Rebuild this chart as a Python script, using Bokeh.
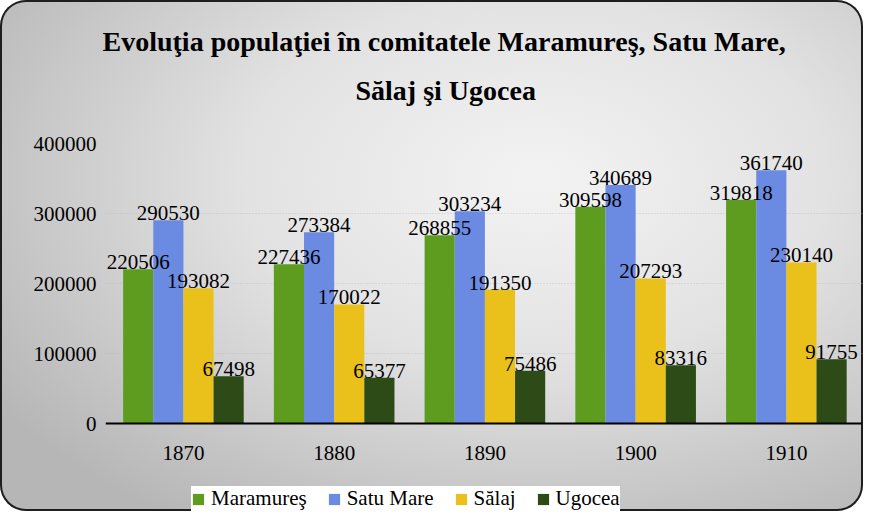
from bokeh.plotting import figure
from bokeh.models import (Range1d, Legend, LegendItem, Title, ColumnDataSource,
                          FixedTicker, BasicTickFormatter, InlineStyleSheet)
from bokeh.transform import dodge
from bokeh.core.properties import value
from bokeh.embed import file_html
from bokeh.resources import INLINE

# ---- data ----
years = ["1870", "1880", "1890", "1900", "1910"]
maramures = [220506, 227436, 268855, 309598, 319818]
satu_mare = [290530, 273384, 303234, 340689, 361740]
salaj = [193082, 170022, 191350, 207293, 230140]
ugocea = [67498, 65377, 75486, 83316, 91755]
series_names = ["Maramureş", "Satu Mare", "Sălaj", "Ugocea"]
y_ticks = [0, 100000, 200000, 300000, 400000]
title_line1 = "Evoluţia populaţiei în comitatele Maramureş, Satu Mare,"
title_line2 = "Sălaj şi Ugocea"

# ---- style ----
colors = ["#5e9c1f", "#6b8be2", "#e9c11a", "#2c4b17"]
offsets = [-0.3, -0.1, 0.1, 0.3]
bar_w = 0.2
FONT = "Liberation Serif"

xpos = list(range(len(years)))
series = [maramures, satu_mare, salaj, ugocea]
keys = ["m", "s", "sa", "u"]
data = dict(x=xpos)
for k, vals in zip(keys, series):
    data[k] = vals
    data[k + "_t"] = [str(v) for v in vals]
source = ColumnDataSource(data)

css = InlineStyleSheet(css=""":host {
  background: radial-gradient(ellipse 75% 80% at 62% 35%, #f3f3f3 0%, #e2e2e2 45%, #c6c6c6 80%, #b6b6b6 100%);
  border-radius: 26px;
  box-shadow: inset 0 0 0 2px #1e1e1e;
}""")

# frame spans down to the bottom edge so the legend (drawn in the frame) is not clipped;
# the x axis is pinned at y = 0
p = figure(x_range=Range1d(-0.517, 4.505), y_range=Range1d(-125714, 400000),
           width=863, height=511, output_backend="svg", toolbar_location=None,
           min_border_left=105, min_border_right=1, min_border_top=143, min_border_bottom=0,
           stylesheets=[css])
p.background_fill_alpha = 0
p.border_fill_alpha = 0
p.outline_line_color = None

renderers = []
for k, off, c in zip(keys, offsets, colors):
    r = p.vbar(x=dodge("x", off), top=k, bottom=0, width=bar_w, source=source,
               fill_color=c, line_color=None)
    renderers.append(r)

for k, off in zip(keys, offsets):
    p.text(x=dodge("x", off), y=k, text=k + "_t", source=source,
           text_align="center", text_baseline="middle", y_offset=-7,
           text_font=value(FONT), text_font_size="21px", text_color="black")

# axes
p.yaxis.ticker = FixedTicker(ticks=y_ticks)
p.yaxis.formatter = BasicTickFormatter(use_scientific=False)
p.yaxis.axis_line_color = None
p.yaxis.major_tick_line_color = None
p.yaxis.minor_tick_line_color = None
p.yaxis.major_label_standoff = 3
p.yaxis.major_label_text_font = FONT
p.yaxis.major_label_text_font_size = "21px"
p.yaxis.major_label_text_color = "black"

p.xaxis.fixed_location = 0
p.xaxis.ticker = FixedTicker(ticks=xpos)
p.xaxis.major_label_overrides = {i: y for i, y in zip(xpos, years)}
p.xaxis.axis_line_color = "black"
p.xaxis.axis_line_width = 2
p.xaxis.major_tick_line_color = None
p.xaxis.minor_tick_line_color = None
p.xaxis.major_label_standoff = 16
p.xaxis.major_label_text_font = FONT
p.xaxis.major_label_text_font_size = "21px"
p.xaxis.major_label_text_color = "black"

p.xgrid.grid_line_color = None
p.ygrid.grid_line_color = "#b0b0b0"
p.ygrid.grid_line_alpha = 0.6
p.ygrid.grid_line_dash = "1 2"

# title: outermost line is p.title; inner items stacked from the frame outward
p.title.text = title_line1
p.title.align = "left"
p.title.offset = -3
p.title.standoff = 4
p.title.text_font = FONT
p.title.text_font_style = "bold"
p.title.text_font_size = "28px"
p.title.text_color = "black"
p.add_layout(Title(text=" ", standoff=21, text_font_size="1px"), "above")
p.add_layout(Title(text=title_line2, align="left", offset=250, standoff=28,
                   text_font=FONT, text_font_style="bold", text_font_size="28px",
                   text_color="black"), "above")

legend = Legend(items=[LegendItem(label=n, renderers=[r]) for n, r in zip(series_names, renderers)],
                orientation="horizontal", location=(86, 0))
legend.background_fill_color = "white"
legend.background_fill_alpha = 1
legend.border_line_color = None
legend.label_text_font = FONT
legend.label_text_font_size = "21px"
legend.label_text_color = "black"
legend.label_height = 22
legend.glyph_width = 14
legend.glyph_height = 14
legend.label_standoff = 6
legend.spacing = 20
legend.padding = 5
legend.margin = 0
p.add_layout(legend)

open("out.html", "w").write(file_html(p, INLINE))
